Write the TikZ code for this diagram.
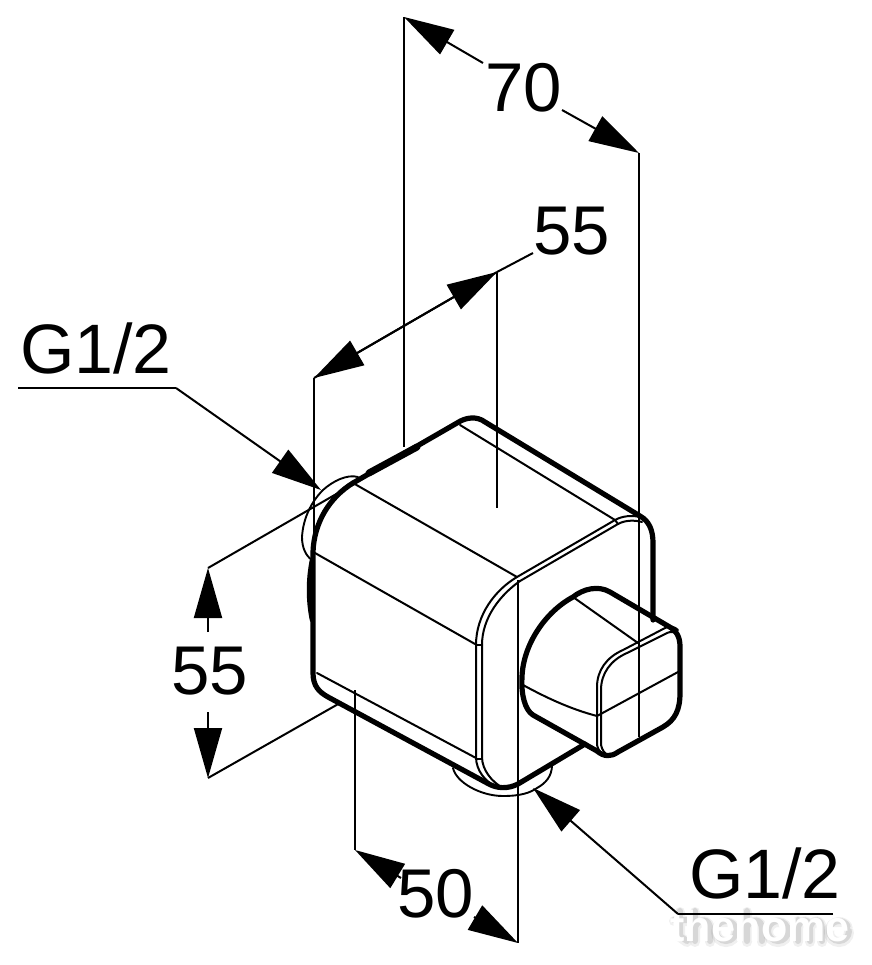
\documentclass[tikz,border=0pt]{standalone}
\usepackage{fontspec}
\setmainfont{Liberation Sans}
\usetikzlibrary{arrows.meta}
\tikzset{
  thinln/.style={line width=2pt,black,line cap=round,line join=round},
  midln/.style={line width=1.9pt,black,line cap=round,line join=round},
  thickln/.style={line width=5.2pt,black,line cap=round,line join=round},
  dimln/.style={line width=2pt,black},
  bighead/.style={-{Triangle[length=50pt,width=28pt]}},
  dimtxt/.style={inner sep=0pt,font=\fontsize{69}{69}\selectfont},
  gtxt/.style={inner sep=0pt,text depth=0pt,font=\fontsize{70}{70}\selectfont},
  wmglyphs/.pic={
    \draw (678,908) -- (678,933) -- (685,938) (672,917) -- (685,917);
    \draw (693,908) -- (693,938) (693,924) .. controls (697,915) and (708,915) .. (708,926) -- (708,938);
    \draw (734,928) arc[start angle=0,end angle=330,radius=10];
    \draw (745,908) -- (745,938) (745,924) .. controls (749,915) and (760,915) .. (760,926) -- (760,938);
    \draw (786,928) arc[start angle=0,end angle=360,radius=10];
    \draw (796,917) -- (796,938) (796,924) .. controls (799,915) and (808,915) .. (808,926) -- (808,938)
          (808,924) .. controls (811,915) and (820,915) .. (820,926) -- (820,938);
    \draw (847,928) arc[start angle=0,end angle=330,radius=10];
  },
}
\begin{document}
\begin{tikzpicture}[x=1pt,y=-1pt]
\useasboundingbox[fill=white] (0,0) rectangle (871,965);
% anchor points of the dimensions
\coordinate (a70L) at (404,17);
\coordinate (a70R) at (639,153);
\coordinate (a70Lb) at (404,447);
\coordinate (a70Rb) at (639,737);
\coordinate (a55L) at (314,378);
\coordinate (a55R) at (497,272);
\coordinate (a55Lb) at (314,560);
\coordinate (a55Rb) at (497,508);
\coordinate (a55end) at (533,253);
\coordinate (v55T) at (208,568);
\coordinate (v55B) at (208,778);
\coordinate (v55Ti) at (345,489);
\coordinate (v55Bi) at (340,703);
\coordinate (a50L) at (355,850);
\coordinate (a50R) at (518,943);
\coordinate (a50Lt) at (355,690);
\coordinate (a50Rt) at (518,580);
\coordinate (gL0) at (18,388);
\coordinate (gL1) at (176,388);
\coordinate (gLt) at (321,490);
\coordinate (gB0) at (833,914);
\coordinate (gB1) at (678,914);
\coordinate (gBt) at (533,788);
% labels
\node[dimtxt] (t70) at (524,88) {70};
\node[dimtxt] (t55a) at (572,231) {55};
\node[dimtxt] (t55b) at (210,671) {55};
\node[dimtxt] (t50) at (436,894) {50};
\node[gtxt] (tg1) at (96,348) {G1/2};
\node[gtxt] (tg2) at (765,873) {G1/2};
% watermark: soft shadow, then pale lettering
\begin{scope}[shift={(2,4)},opacity=.06,line width=10pt,line cap=round,black]
  \pic {wmglyphs};
\end{scope}
\begin{scope}[shift={(2,3)},opacity=.10,line width=6pt,line cap=round,black]
  \pic {wmglyphs};
\end{scope}
\node[inner sep=0pt,font=\bfseries\fontsize{43}{43}\selectfont,text=white] (wm) at (760,926) {thehome};
% extension lines
\draw[dimln] (a70L) -- (a70Lb);
\draw[dimln] (a70R) -- (a70Rb);
\draw[dimln] (a55L) -- (a55Lb);
\draw[dimln] (a55R) -- (a55Rb);
\draw[dimln] (v55T) -- (v55Ti);
\draw[dimln] (v55B) -- (v55Bi);
\draw[dimln] (a50Lt) -- (a50L);
\draw[dimln] (a50Rt) -- (a50R);
% dimension arrows
\draw[dimln,bighead] (483,63) -- (a70L);
\draw[dimln,bighead] (562,110) -- (a70R);
\draw[dimln,bighead] (a55R) -- (a55L);
\draw[dimln,bighead] (a55L) -- (a55R);
\draw[dimln] (a55R) -- (a55end);
\draw[dimln,bighead] (208,632) -- (v55T);
\draw[dimln,bighead] (208,712) -- (v55B);
\draw[dimln,bighead] (401,878) -- (a50L);
\draw[dimln,bighead] (474,917) -- (a50R);
\draw[dimln,bighead] (gL1) -- (gLt);
\draw[dimln] (gL0) -- (gL1);
\draw[dimln,bighead] (gB1) -- (gBt);
\draw[dimln] (gB0) -- (gB1);
% flanges
\draw[midln] (358,477) .. controls (347,474) and (333,481) .. (323,490)
  .. controls (310,503) and (303,520) .. (302,537) .. controls (302,548) and (306,556) .. (312,560);
\draw[midln] (453,768) .. controls (456,782) and (480,796) .. (503,796)
  .. controls (520,796) and (530,793) .. (537,788) .. controls (546,783) and (552,776) .. (552,765);
% body outline
\draw[thickln] (353,483) -- (457,423) .. controls (466,417) and (477,416) .. (485,422)
  -- (640,516) .. controls (649,521) and (653,530) .. (653,543) -- (653,620);
\draw[thickln] (353,483) .. controls (330,497) and (314,522) .. (313,552) -- (313,673)
  .. controls (313,686) and (319,692) .. (328,697) -- (487,783)
  .. controls (497,789) and (508,789) .. (518,784) -- (585,744);
\draw[line width=7pt,line cap=round] (369,473) -- (417,447);
\draw[line width=4.5pt,line cap=round] (312,560) .. controls (308,580) and (308,600) .. (312,620);
% body inner lines
\draw[thinln] (353,483) -- (517,577);
\draw[thinln] (460,425) -- (615,520);
\draw[thinln] (315,553) -- (475,644);
\draw[thinln] (317,673) -- (476,758);
\draw[thinln] (517,577) -- (615,520) .. controls (622,516) and (632,515) .. (640,517);
\draw[thinln] (520,581) -- (618,524) .. controls (625,520) and (635,520) .. (642,522);
\draw[thinln] (615,520) -- (618,524);
\draw[thinln] (517,577) .. controls (495,590) and (476,615) .. (476,645) -- (476,757)
  .. controls (476,770) and (485,782) .. (497,787);
\draw[thinln] (520,581) .. controls (500,595) and (482,618) .. (482,645) -- (482,757)
  .. controls (482,770) and (492,782) .. (503,788);
\draw[thinln] (476,645) -- (482,645);
\draw[thinln] (476,759) -- (482,759);
% knob
\draw[thickln] (522,677) .. controls (523,645) and (545,612) .. (573,597)
  .. controls (583,589) and (598,585) .. (610,592) -- (668,626)
  .. controls (677,631) and (680,637) .. (680,647) -- (680,693)
  .. controls (680,710) and (675,720) .. (663,727) -- (618,752)
  .. controls (611,757) and (604,757) .. (597,751) -- (533,715)
  .. controls (525,710) and (521,695) .. (522,677) -- cycle;
\draw[thinln] (573,597) -- (638,643);
\draw[thinln] (523,685) .. controls (545,697) and (570,709) .. (597,716);
\draw[thinln] (597,716) -- (678,672);
\draw[thinln] (597,745) -- (597,687) .. controls (597,670) and (607,657) .. (623,650) -- (665,628)
  .. controls (670,625) and (675,627) .. (678,630);
\draw[thinln] (601,745) -- (601,690) .. controls (601,673) and (611,660) .. (627,653) -- (667,633)
  .. controls (671,631) and (675,632) .. (678,634);
\draw[thinln] (597,745) .. controls (598,750) and (601,754) .. (605,755);
\draw[thinln] (601,745) .. controls (602,750) and (605,754) .. (608,755);
\end{tikzpicture}
\end{document}
